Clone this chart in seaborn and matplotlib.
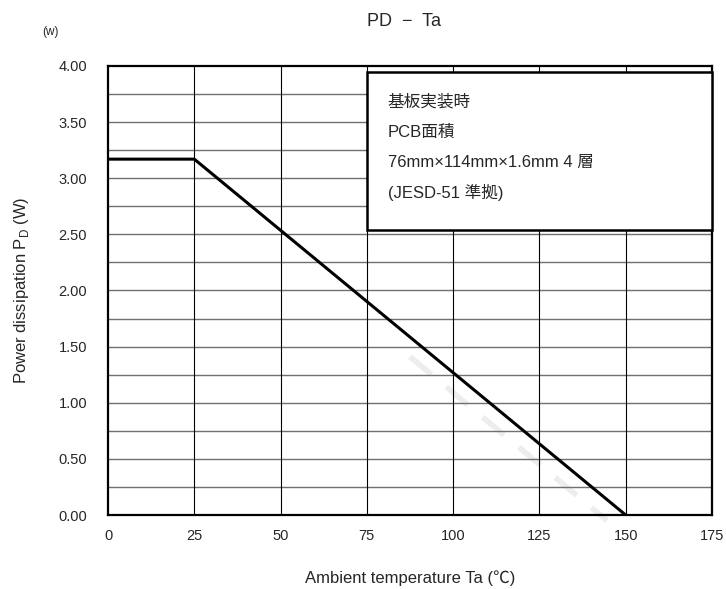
import numpy as np
import pandas as pd
import matplotlib
matplotlib.use('Agg')
import matplotlib.pyplot as plt
from matplotlib.patches import Rectangle
import seaborn as sns

# derating curve
ta = [0, 25, 150]
pd_w = [3.17, 3.17, 0.0]
# faint gray dashed trace in the background
ghost_ta = [87.5, 144.6]
ghost_pd = [1.41, -0.05]

box_lines = ['基板実装時', 'PCB面積', '76mm×114mm×1.6mm 4 層', '(JESD-51 準拠)']

sns.set_style('white')
plt.rcParams['font.family'] = ['Liberation Sans', 'Noto Sans CJK JP', 'DejaVu Sans']

fig = plt.figure(figsize=(7.26, 5.89), dpi=100)
ax = fig.add_axes([0.1488, 0.1256, 0.8319, 0.7624])

df = pd.DataFrame({'Ta': ta, 'PD': pd_w})
ax.plot(ghost_ta, ghost_pd, color='#ededed', lw=4, dashes=(5, 3.5), clip_on=False, zorder=1)
sns.lineplot(data=df, x='Ta', y='PD', color='black', lw=2.2, ax=ax, zorder=5)

ax.set_xlim(0, 175)
ax.set_ylim(0, 4)
ax.set_xticks(np.arange(0, 176, 25))
ax.set_yticks(np.arange(0, 4.01, 0.5))
ax.set_yticklabels(['%.2f' % v for v in np.arange(0, 4.01, 0.5)])
for v in np.arange(0.25, 4.0, 0.25):
    ax.axhline(v, color='#707070', lw=1.0, zorder=2)
for v in np.arange(25, 175, 25):
    ax.axvline(v, color='black', lw=0.8, zorder=2)

ax.tick_params(axis='y', which='both', length=0, labelsize=10.5, pad=15)
ax.tick_params(axis='x', which='both', length=0, labelsize=10.5, pad=10)
for s in ax.spines.values():
    s.set_color('black')
    s.set_linewidth(1.6)

ax.set_xlabel('Ambient temperature Ta (\u2103)', fontsize=12, labelpad=20)
ax.set_ylabel('Power dissipation P$_{\\mathregular{D}}$ (W)', fontsize=12, labelpad=20)

# annotation box
ax.add_patch(Rectangle((75, 2.54), 100, 1.41, facecolor='white', edgecolor='black',
                       lw=1.8, zorder=6, clip_on=False))
for i, t in enumerate(box_lines):
    ax.text(81.0, 3.68 - i * 0.268, t, fontsize=12, va='center', ha='left', zorder=7)

fig.text(0.557, 0.963, 'PD  \u2212  Ta', fontsize=13, ha='center', va='center')
fig.text(0.069, 0.945, '(w)', fontsize=8.5, ha='center', va='center')

fig.savefig('out.png', dpi=100)
